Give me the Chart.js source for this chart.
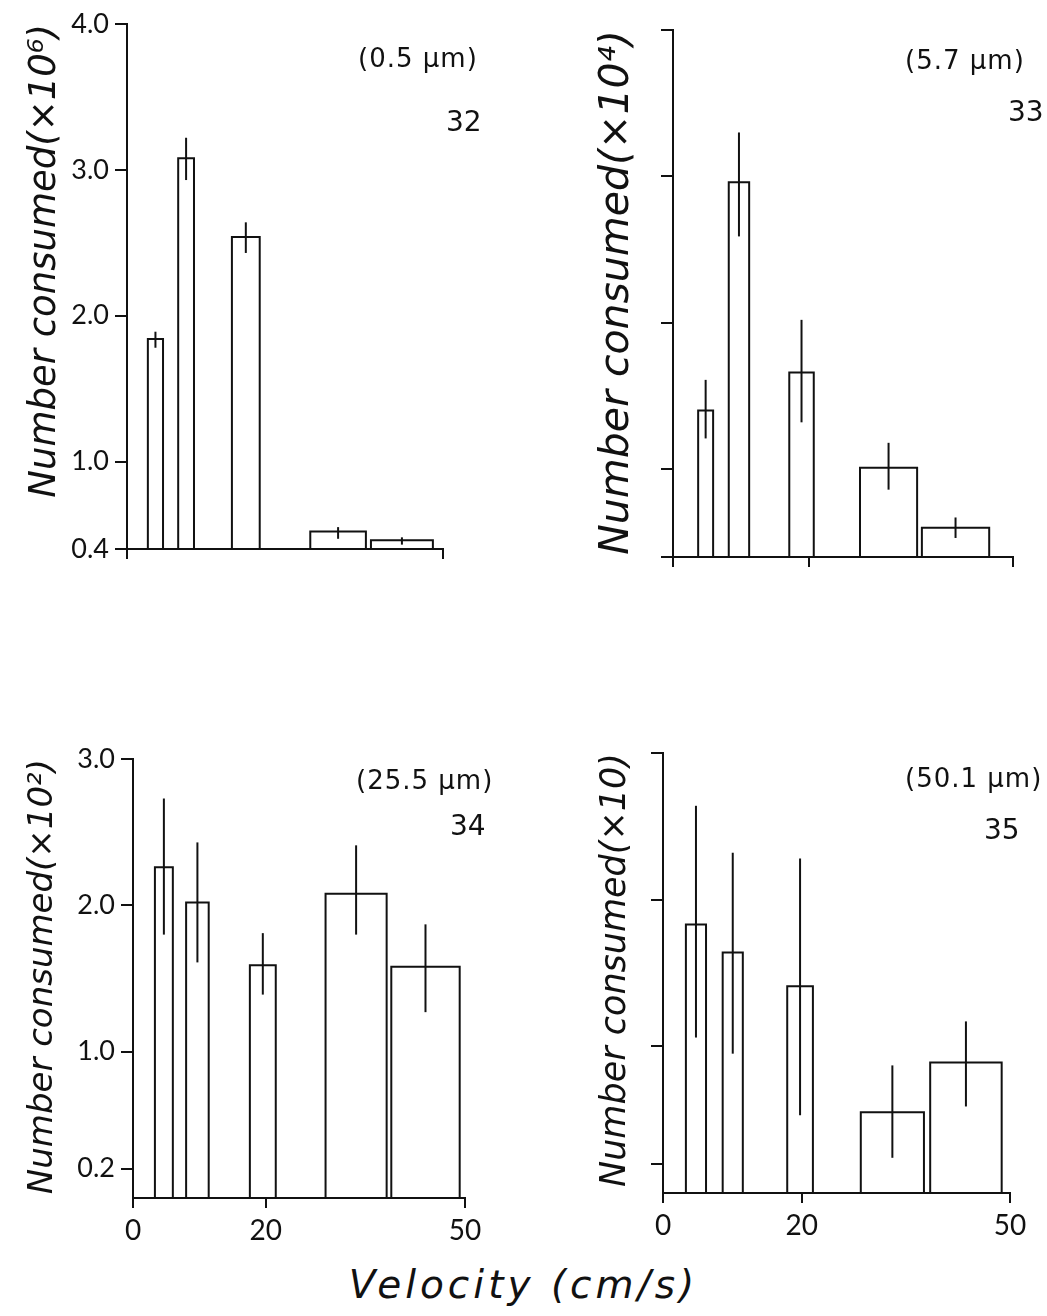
<!DOCTYPE html>
<html>
<head>
<meta charset="utf-8">
<script src="https://cdn.jsdelivr.net/npm/chart.js@4.4.0/dist/chart.umd.min.js"></script>
<style>
  body { margin: 0; background: #fff; width: 1047px; height: 1316px; position: relative; overflow: hidden; font-family: "DejaVu Sans", Lato, sans-serif; color: #111; }
  .panel { position: absolute; }
  .note { position: absolute; white-space: nowrap; font-size: 26px; line-height: 1; letter-spacing: 1px; }
  .num { position: absolute; font-size: 28px; line-height: 1; }
  .xlab { position: absolute; left: 0; width: 1047px; text-align: center; top: 1262px; font-size: 39px; font-style: italic; letter-spacing: 4px; }
</style>
</head>
<body>

<div class="panel" style="left:0;top:0;width:480px;height:600px"><canvas id="c32"></canvas></div>
<div class="panel" style="left:530px;top:0;width:517px;height:600px"><canvas id="c33"></canvas></div>
<div class="panel" style="left:0;top:700px;width:520px;height:560px"><canvas id="c34"></canvas></div>
<div class="panel" style="left:530px;top:700px;width:517px;height:560px"><canvas id="c35"></canvas></div>

<div class="note" style="left:358px;top:45px">(0.5 μm)</div>
<div class="num" style="left:446px;top:108px">32</div>
<div class="note" style="left:905px;top:47px">(5.7 μm)</div>
<div class="num" style="left:1008px;top:98px">33</div>
<div class="note" style="left:356px;top:767px">(25.5 μm)</div>
<div class="num" style="left:450px;top:812px">34</div>
<div class="note" style="left:905px;top:765px">(50.1 μm)</div>
<div class="num" style="left:984px;top:816px">35</div>

<div class="xlab">Velocity (cm/s)</div>

<script>
// velocity bins (cm/s): left and right edge of each bar
const left32 = [3.3, 8.1, 16.6, 29.0, 38.6];
const right32 = [5.7, 10.6, 21.0, 37.8, 48.4];
const count32 = [1.84, 3.08, 2.54, 0.52, 0.46];
const low32 = [1.78, 2.93, 2.43, 0.47, 0.43];
const high32 = [1.89, 3.22, 2.64, 0.55, 0.48];

const left33 = [3.7, 8.2, 17.1, 27.5, 36.6];
const right33 = [5.9, 11.2, 20.7, 35.9, 46.5];
const count33 = [1.40, 2.96, 1.66, 1.01, 0.60];
const low33 = [1.21, 2.59, 1.32, 0.86, 0.53];
const high33 = [1.61, 3.30, 2.02, 1.18, 0.67];

const left34 = [3.3, 8.0, 17.6, 29.0, 38.9];
const right34 = [6.0, 11.4, 21.5, 38.2, 49.2];
const count34 = [2.26, 2.02, 1.59, 2.08, 1.58];
const low34 = [1.80, 1.61, 1.39, 1.80, 1.27];
const high34 = [2.73, 2.43, 1.81, 2.41, 1.87];

const left35 = [3.3, 8.6, 17.9, 28.5, 38.5];
const right35 = [6.2, 11.5, 21.6, 37.6, 48.8];
const count35 = [1.83, 1.64, 1.41, 0.55, 0.89];
const low35 = [1.06, 0.95, 0.53, 0.24, 0.59];
const high35 = [2.64, 2.32, 2.28, 0.87, 1.17];

const yTicks32 = [0.4, 1, 2, 3, 4];
const yTicks33 = [0.4, 1, 2, 3, 4];
const yTicks34 = [0.2, 1, 2, 3];
const yTicks35 = [0.2, 1, 2, 3];
const xTicks32 = [0, 50];
const xTicks = [0, 20, 50];

const ink = "#111";

// each bar is an open rectangle, each error bar a vertical segment
function barSets(lefts, rights, vals, lo, hi, base) {
    const sets = [];
    vals.forEach((v, i) => {
        sets.push({
            data: [
                { x: lefts[i], y: base }, { x: lefts[i], y: v },
                { x: rights[i], y: v }, { x: rights[i], y: base }
            ]
        });
        const mid = (lefts[i] + rights[i]) / 2;
        sets.push({ data: [{ x: mid, y: lo[i] }, { x: mid, y: hi[i] }] });
    });
    sets.forEach(s => {
        s.showLine = true;
        s.borderColor = ink;
        s.borderWidth = 2;
        s.pointRadius = 0;
        s.fill = false;
        s.tension = 0;
    });
    return sets;
}

function makePanel(id, p) {
    new Chart(document.getElementById(id), {
        type: "scatter",
        data: { datasets: barSets(p.lefts, p.rights, p.vals, p.lo, p.hi, p.yMin) },
        options: {
            responsive: true,
            maintainAspectRatio: false,
            animation: false,
            layout: { padding: { top: p.padTop, right: p.padRight, left: 0, bottom: 0 } },
            plugins: { legend: { display: false }, tooltip: { enabled: false } },
            scales: {
                x: {
                    type: "linear",
                    min: 0,
                    max: 50,
                    afterBuildTicks: s => { s.ticks = p.xTicks.map(v => ({ value: v })); },
                    afterFit: s => { s.height = p.xh; },
                    ticks: {
                        display: p.xLabels,
                        color: ink,
                        padding: 6,
                        maxRotation: 0,
                        font: { family: "Lato", size: 28 },
                        callback: v => String(v)
                    },
                    grid: { drawOnChartArea: false, color: ink, lineWidth: 2, tickLength: 10 },
                    border: { color: ink, width: 2 }
                },
                y: {
                    type: "linear",
                    min: p.yMin,
                    max: p.yMax,
                    afterBuildTicks: s => { s.ticks = p.yTicks.map(v => ({ value: v })); },
                    afterFit: s => { s.width = p.yw; },
                    ticks: {
                        display: p.yLabels,
                        color: ink,
                        padding: 6,
                        font: { family: "Lato", size: 27 },
                        callback: v => v.toFixed(1)
                    },
                    grid: { drawOnChartArea: false, color: ink, lineWidth: 2, tickLength: 12 },
                    border: { color: ink, width: 2 },
                    title: {
                        display: true,
                        text: p.title,
                        color: ink,
                        align: "end",
                        padding: { top: p.titlePad, bottom: 0 },
                        font: { family: "DejaVu Sans", size: p.titleSize, style: "italic" }
                    }
                }
            }
        }
    });
}

makePanel("c32", {
    lefts: left32, rights: right32, vals: count32, lo: low32, hi: high32,
    yMin: 0.4, yMax: 4.0, yTicks: yTicks32, xTicks: xTicks32,
    yLabels: true, xLabels: false,
    title: "Number consumed(×10⁶)", titleSize: 37, titlePad: 23,
    padTop: 24, padRight: 37, yw: 127, xh: 51
});

makePanel("c33", {
    lefts: left33, rights: right33, vals: count33, lo: low33, hi: high33,
    yMin: 0.4, yMax: 4.0, yTicks: yTicks33, xTicks: xTicks,
    yLabels: false, xLabels: false,
    title: "Number consumed(×10⁴)", titleSize: 41, titlePad: 63,
    padTop: 30, padRight: 34, yw: 143, xh: 43
});

makePanel("c34", {
    lefts: left34, rights: right34, vals: count34, lo: low34, hi: high34,
    yMin: 0, yMax: 3.0, yTicks: yTicks34, xTicks: xTicks,
    yLabels: true, xLabels: true,
    title: "Number consumed(×10²)", titleSize: 34, titlePad: 23,
    padTop: 59, padRight: 55, yw: 133, xh: 62
});

makePanel("c35", {
    lefts: left35, rights: right35, vals: count35, lo: low35, hi: high35,
    yMin: 0, yMax: 3.0, yTicks: yTicks35, xTicks: xTicks,
    yLabels: false, xLabels: true,
    title: "Number consumed(×10)", titleSize: 35, titlePad: 65,
    padTop: 53, padRight: 37, yw: 133, xh: 67
});
</script>
</body>
</html>
